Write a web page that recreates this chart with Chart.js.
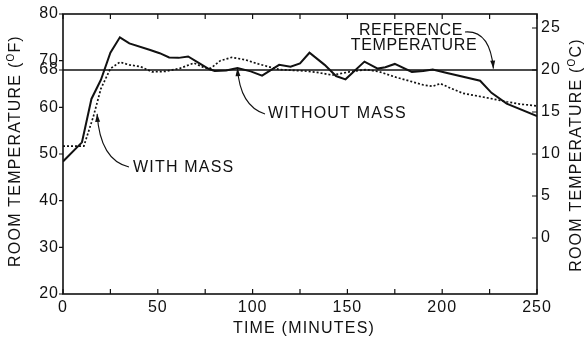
<!DOCTYPE html>
<html>
<head>
<meta charset="utf-8">
<script src="https://cdn.jsdelivr.net/npm/chart.js@4/dist/chart.umd.min.js"></script>
<style>
  html, body { margin: 0; padding: 0; background: #fff; }
  #wrap { width: 585px; height: 340px; }
</style>
</head>
<body>
<div id="wrap"><canvas id="chart"></canvas></div>
<script>
// time in minutes, temperature in deg F
var timeNoMass = [0, 10, 15, 20, 25, 30, 35, 46, 51, 56, 61, 66, 72, 77, 80, 86, 92, 99, 105, 114, 120, 125, 130, 138, 144, 149, 159, 166, 170, 175, 184, 190, 195, 202, 220, 226, 234, 250];
var tempNoMass = [48.4, 52.5, 61.8, 65.9, 71.7, 75.0, 73.7, 72.3, 71.6, 70.7, 70.6, 70.9, 69.4, 68.2, 67.8, 67.9, 68.4, 67.7, 66.8, 69.1, 68.7, 69.4, 71.7, 69.1, 66.7, 66.0, 69.8, 68.3, 68.6, 69.3, 67.6, 67.8, 68.1, 67.4, 65.7, 63.1, 60.8, 58.1];

var timeMass = [0, 11, 16, 20, 25, 30, 35, 41, 47, 54, 62, 69, 75, 78, 83, 89, 96, 103, 114, 127, 134, 142, 151, 160, 167, 176, 184, 190, 195, 199, 205, 211, 223, 234, 241, 250];
var tempMass = [51.7, 51.7, 58.0, 64.0, 68.3, 69.7, 69.1, 68.7, 67.6, 67.7, 68.4, 69.5, 68.4, 68.4, 70.0, 70.7, 70.2, 69.3, 68.1, 67.8, 67.5, 66.9, 67.6, 68.1, 67.6, 66.4, 65.5, 64.8, 64.5, 65.1, 64.0, 63.0, 62.1, 61.2, 60.7, 60.3];

var refTemp = 68;
var timeRange = [0, 250];
var tempRangeF = [20, 80];
var leftTicks = [20, 30, 40, 50, 60, 68, 70, 80];
var rightTicks = [0, 5, 10, 15, 20, 25];
var xTickStep = 25;
var xLabelStep = 50;

function toC(f) { return (f - 32) * 5 / 9; }
function pts(xs, ys) { return xs.map(function(x, i) { return { x: x, y: ys[i] }; }); }

var ink = '#111';
var fontName = '"Liberation Sans", Arial, Helvetica, sans-serif';

// draws text with a raised small "O" (degree mark) in it
function drawParts(ctx, parts, cx, cy, rot) {
  ctx.save();
  ctx.translate(cx, cy);
  ctx.rotate(rot);
  ctx.letterSpacing = '1.2px';
  ctx.textBaseline = 'middle';
  ctx.textAlign = 'left';
  var total = 0;
  parts.forEach(function(p) {
    ctx.font = (p.sup ? '10px ' : '16px ') + fontName;
    p.w = ctx.measureText(p.t).width;
    total += p.w;
  });
  var x = -total / 2;
  parts.forEach(function(p) {
    ctx.font = (p.sup ? '10px ' : '16px ') + fontName;
    ctx.fillText(p.t, x, p.sup ? -5 : 0);
    x += p.w;
  });
  ctx.restore();
}

function curvedArrow(ctx, x0, y0, cx, cy, x1, y1) {
  ctx.beginPath();
  ctx.moveTo(x0, y0);
  ctx.quadraticCurveTo(cx, cy, x1, y1);
  ctx.stroke();
  var a = Math.atan2(y1 - cy, x1 - cx);
  var len = 8, hw = 2.5;
  ctx.beginPath();
  ctx.moveTo(x1, y1);
  ctx.lineTo(x1 - len * Math.cos(a) + hw * Math.sin(a), y1 - len * Math.sin(a) - hw * Math.cos(a));
  ctx.lineTo(x1 - len * Math.cos(a) - hw * Math.sin(a), y1 - len * Math.sin(a) + hw * Math.cos(a));
  ctx.closePath();
  ctx.fill();
}

var decor = {
  id: 'decor',
  beforeDraw: function(chart) {
    chart.ctx.letterSpacing = '1px';
  },
  afterDraw: function(chart) {
    var ctx = chart.ctx, a = chart.chartArea;
    var sx = chart.scales.x, sy = chart.scales.y, sy2 = chart.scales.y2;
    ctx.save();
    ctx.strokeStyle = ink;
    ctx.fillStyle = ink;

    // frame
    ctx.lineWidth = 1.6;
    ctx.strokeRect(a.left, a.top, a.right - a.left, a.bottom - a.top);

    // tick marks
    ctx.lineWidth = 1.2;
    ctx.beginPath();
    for (var t = timeRange[0]; t <= timeRange[1]; t += xTickStep) {
      var px = sx.getPixelForValue(t);
      ctx.moveTo(px, a.bottom); ctx.lineTo(px, a.bottom - 5);
      ctx.moveTo(px, a.top); ctx.lineTo(px, a.top + 5);
    }
    leftTicks.forEach(function(v) {
      var py = sy.getPixelForValue(v);
      ctx.moveTo(a.left, py); ctx.lineTo(a.left - 4, py);
    });
    rightTicks.forEach(function(v) {
      var py = sy2.getPixelForValue(v);
      ctx.moveTo(a.right, py); ctx.lineTo(a.right - 5, py);
    });
    ctx.stroke();

    // axis titles
    drawParts(ctx, [{ t: 'ROOM TEMPERATURE (' }, { t: 'O', sup: true }, { t: 'F)' }], 16, 151, -Math.PI / 2);
    drawParts(ctx, [{ t: 'ROOM TEMPERATURE (' }, { t: 'O', sup: true }, { t: 'C)' }], 577, 155, -Math.PI / 2);
    drawParts(ctx, [{ t: 'TIME (MINUTES)' }], 304, 329, 0);

    // annotations
    ctx.font = '16px ' + fontName;
    ctx.textBaseline = 'middle';
    ctx.textAlign = 'left';
    ctx.letterSpacing = '1.2px';
    ctx.fillText('WITH MASS', 133, 168);
    ctx.fillText('WITHOUT MASS', 268, 114);
    ctx.letterSpacing = '0.6px';
    ctx.textAlign = 'center';
    ctx.fillText('REFERENCE', 411, 31);
    ctx.fillText('TEMPERATURE', 414, 46);

    ctx.lineWidth = 1.1;
    curvedArrow(ctx, 129, 167, 100, 160, sx.getPixelForValue(18), sy.getPixelForValue(58.6));
    curvedArrow(ctx, 265, 114, 240, 106, sx.getPixelForValue(92), sy.getPixelForValue(68.4));
    curvedArrow(ctx, 465, 32, 490, 30, sx.getPixelForValue(227), sy.getPixelForValue(refTemp + 0.3));
    ctx.restore();
  }
};

var tickFont = { family: fontName, size: 16 };
var noGrid = { display: false, drawTicks: false, tickLength: 0 };

new Chart(document.getElementById('chart'), {
  type: 'line',
  data: {
    datasets: [
      {
        label: 'Without mass',
        data: pts(timeNoMass, tempNoMass),
        borderColor: ink,
        borderWidth: 2,
        pointRadius: 0,
        tension: 0
      },
      {
        label: 'With mass',
        data: pts(timeMass, tempMass),
        borderColor: ink,
        borderWidth: 1.7,
        borderDash: [2, 2],
        pointRadius: 0,
        tension: 0
      },
      {
        label: 'Reference temperature',
        data: pts(timeRange, [refTemp, refTemp]),
        borderColor: ink,
        borderWidth: 1.4,
        pointRadius: 0
      }
    ]
  },
  options: {
    responsive: true,
    maintainAspectRatio: false,
    animation: false,
    layout: { padding: { top: 14, left: 0, right: 0, bottom: 0 } },
    plugins: { legend: { display: false }, tooltip: { enabled: false } },
    scales: {
      x: {
        type: 'linear',
        position: 'bottom',
        min: timeRange[0],
        max: timeRange[1],
        grid: noGrid,
        border: { display: false },
        ticks: {
          stepSize: xTickStep,
          autoSkip: false,
          maxRotation: 0,
          padding: 4,
          color: ink,
          font: tickFont,
          callback: function(v) { return v % xLabelStep === 0 ? v : ''; }
        },
        afterFit: function(s) { s.height = 46; }
      },
      y: {
        type: 'linear',
        position: 'left',
        min: tempRangeF[0],
        max: tempRangeF[1],
        grid: noGrid,
        border: { display: false },
        afterBuildTicks: function(s) { s.ticks = leftTicks.map(function(v) { return { value: v }; }); },
        ticks: { autoSkip: false, padding: 4, color: ink, font: tickFont },
        afterFit: function(s) { s.width = 63; }
      },
      y2: {
        type: 'linear',
        position: 'right',
        min: toC(tempRangeF[0]),
        max: toC(tempRangeF[1]),
        grid: noGrid,
        border: { display: false },
        afterBuildTicks: function(s) { s.ticks = rightTicks.map(function(v) { return { value: v }; }); },
        ticks: { autoSkip: false, padding: 4, color: ink, font: tickFont },
        afterFit: function(s) { s.width = 48; }
      }
    }
  },
  plugins: [decor]
});
</script>
</body>
</html>
